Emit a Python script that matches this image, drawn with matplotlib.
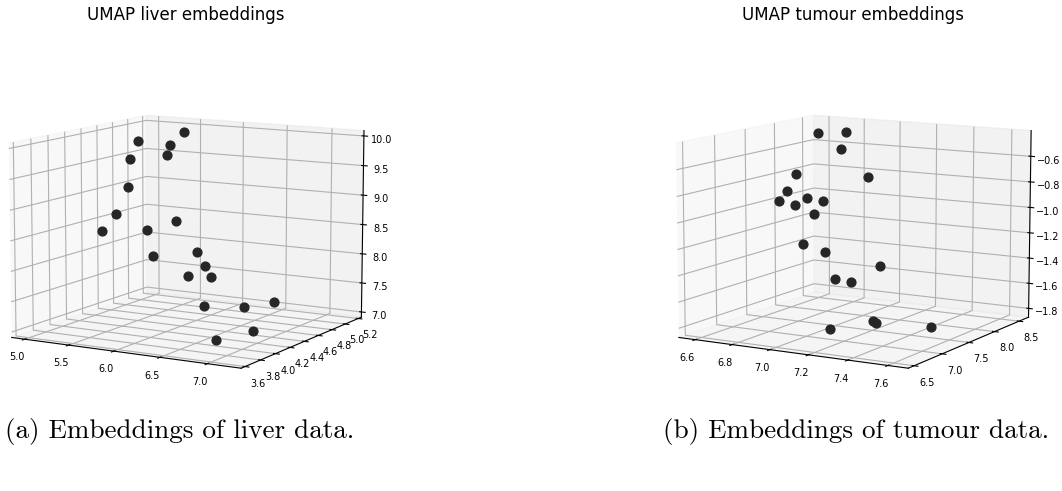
import numpy as np
import matplotlib
matplotlib.use("Agg")
import matplotlib.pyplot as plt

# UMAP embeddings (3 components), 20 samples each
liver_x = [5.37, 5.12, 5.43, 5.54, 5.23, 5.28, 5.25, 5.21, 5.38, 5.57,
           5.60, 5.89, 6.12, 6.33, 5.90, 6.04, 6.59, 6.63, 6.99, 6.73]
liver_y = [5.17, 4.83, 4.91, 4.74, 4.61, 4.53, 4.40, 4.27, 4.66, 4.83,
           4.49, 4.74, 4.57, 4.40, 4.61, 4.66, 4.53, 4.91, 4.15, 3.98]
liver_z = [9.88, 9.78, 9.73, 9.62, 9.55, 9.10, 8.69, 8.45, 8.33, 8.45,
           8.00, 8.01, 7.88, 7.80, 7.65, 7.14, 7.28, 7.19, 7.13, 7.02]

tumour_x = [6.61, 6.73, 6.81, 6.66, 6.92, 6.67, 6.68, 6.71, 6.74, 6.73,
            6.78, 6.81, 6.86, 7.09, 6.95, 7.00, 7.19, 7.22, 7.10, 7.49]
tumour_y = [8.47, 8.59, 8.24, 7.90, 8.36, 7.72, 7.55, 7.95, 8.13, 7.67,
            7.84, 7.55, 7.78, 8.01, 7.67, 7.78, 7.55, 7.49, 7.09, 7.55]
tumour_z = [-0.51, -0.50, -0.60, -0.78, -0.82, -0.89, -0.95, -0.97, -1.01, -0.99,
            -1.07, -1.27, -1.35, -1.46, -1.54, -1.57, -1.81, -1.81, -1.81, -1.80]

liver_xticks = [5.0, 5.5, 6.0, 6.5, 7.0]
liver_yticks = [3.6, 3.8, 4.0, 4.2, 4.4, 4.6, 4.8, 5.0, 5.2]
liver_zticks = [7.0, 7.5, 8.0, 8.5, 9.0, 9.5, 10.0]
tumour_xticks = [6.6, 6.8, 7.0, 7.2, 7.4, 7.6]
tumour_yticks = [6.5, 7.0, 7.5, 8.0, 8.5]
tumour_zticks = [-1.8, -1.6, -1.4, -1.2, -1.0, -0.8, -0.6]


def draw(ax, x, y, z, lims, ticks):
    ax.scatter(x, y, z, s=40, c="#262626", depthshade=False, alpha=1)
    ax.set_xlim(*lims[0])
    ax.set_ylim(*lims[1])
    ax.set_zlim(*lims[2])
    ax.set_xticks(ticks[0])
    ax.set_yticks(ticks[1])
    ax.set_zticks(ticks[2])
    ax.tick_params(labelsize=7, pad=0)
    ax.view_init(elev=10, azim=-60)


fig = plt.figure(figsize=(10.62, 4.91), dpi=100)

ax1 = fig.add_axes([-0.0146, 0.1071, 0.3773, 0.8163], projection="3d")
draw(ax1, liver_x, liver_y, liver_z,
     [(4.85, 7.35), (3.55, 5.25), (6.91, 10.09)],
     [liver_xticks, liver_yticks, liver_zticks])

ax2 = fig.add_axes([0.6136, 0.1071, 0.3773, 0.8163], projection="3d")
draw(ax2, tumour_x, tumour_y, tumour_z,
     [(6.51, 7.70), (6.40, 8.70), (-1.87, -0.40)],
     [tumour_xticks, tumour_yticks, tumour_zticks])

fig.text(0.175, 0.969, "UMAP liver embeddings", ha="center", va="center", fontsize=12)
fig.text(0.803, 0.969, "UMAP tumour embeddings", ha="center", va="center", fontsize=12)

fig.text(0.1695, 0.122, "(a) Embeddings of liver data.", ha="center", va="center",
         family="cmr10", fontsize=19.5)
fig.text(0.8065, 0.122, "(b) Embeddings of tumour data.", ha="center", va="center",
         family="cmr10", fontsize=19.5)

fig.savefig("out.png", dpi=100)
